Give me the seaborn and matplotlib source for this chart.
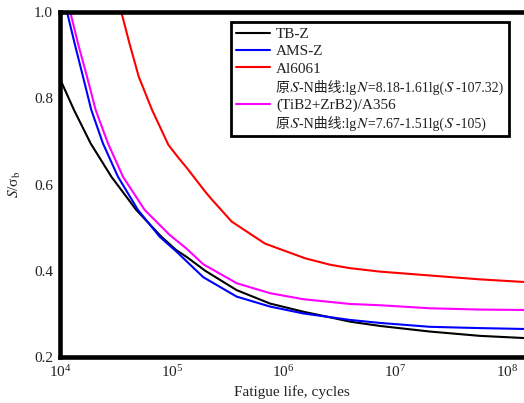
import numpy as np
import pandas as pd
import seaborn as sns
import matplotlib
matplotlib.use('Agg')
import matplotlib.pyplot as plt
from matplotlib.lines import Line2D

# values (lg N, S/sigma_b)
tbz_lgn = [4.0, 4.125, 4.275, 4.46, 4.683, 4.907, 5.04, 5.134, 5.3, 5.582, 5.88, 6.178, 6.417, 6.596, 6.865, 7.312, 7.76, 8.154]
tbz_s = [0.845, 0.773, 0.695, 0.618, 0.541, 0.479, 0.448, 0.432, 0.400, 0.355, 0.324, 0.305, 0.292, 0.282, 0.272, 0.259, 0.249, 0.244]

ams_lgn = [4.063, 4.131, 4.206, 4.28, 4.385, 4.519, 4.698, 4.892, 5.04, 5.283, 5.582, 5.88, 6.178, 6.596, 6.865, 7.312, 7.76, 8.154]
ams_s = [1.0, 0.927, 0.850, 0.773, 0.695, 0.618, 0.541, 0.479, 0.445, 0.385, 0.340, 0.317, 0.301, 0.286, 0.279, 0.270, 0.267, 0.265]

al_lgn = [4.549, 4.622, 4.705, 4.824, 4.97, 5.06, 5.14, 5.298, 5.36, 5.537, 5.835, 6.193, 6.417, 6.596, 6.865, 7.312, 7.76, 8.154]
al_s = [1.0, 0.927, 0.850, 0.773, 0.692, 0.662, 0.637, 0.584, 0.565, 0.514, 0.463, 0.429, 0.414, 0.406, 0.398, 0.389, 0.380, 0.374]

tib_lgn = [4.092, 4.161, 4.242, 4.319, 4.43, 4.564, 4.758, 4.982, 5.13, 5.283, 5.582, 5.88, 6.178, 6.596, 6.865, 7.312, 7.76, 8.154]
tib_s = [1.0, 0.927, 0.850, 0.773, 0.695, 0.618, 0.541, 0.483, 0.452, 0.415, 0.371, 0.348, 0.334, 0.323, 0.320, 0.313, 0.310, 0.309]

names = ['TB-Z', 'AMS-Z', 'Al6061', '(TiB2+ZrB2)/A356']
colors = ['black', 'blue', 'red', '#ff00ff']
yticks = [0.2, 0.4, 0.6, 0.8, 1.0]
xticks = [1e4, 1e5, 1e6, 1e7, 1e8]
notes = {
    'Al6061': '原𝑆-N曲线:lg𝑁=8.18-1.61lg(𝑆\u2009-107.32)',
    '(TiB2+ZrB2)/A356': '原𝑆-N曲线:lg𝑁=7.67-1.51lg(𝑆\u2009-105)',
}

frames = []
for name, lgn, s in zip(names, [tbz_lgn, ams_lgn, al_lgn, tib_lgn], [tbz_s, ams_s, al_s, tib_s]):
    frames.append(pd.DataFrame({'N': np.power(10.0, lgn), 'S': s, 'material': name}))
df = pd.concat(frames, ignore_index=True)

sns.set_style('white')
plt.rcParams['font.family'] = ['Liberation Serif', 'STIXGeneral', 'Noto Sans CJK SC']
plt.rcParams['mathtext.fontset'] = 'stix'
plt.rcParams['font.size'] = 11

fig = plt.figure(figsize=(5.24, 4.03), dpi=100)
ax = fig.add_axes([60 / 524, 46 / 403, 464 / 524, 345 / 403])

sns.lineplot(data=df, x='N', y='S', hue='material', hue_order=names,
             palette=colors, sort=False, estimator=None, linewidth=1.5,
             legend=False, ax=ax)

ax.set_xscale('log')
ax.set_xlim(1e4, 10 ** 8.154)
ax.set_ylim(0.2, 1.0)
ax.set_xticks(xticks)
ax.minorticks_off()
ax.set_yticks(yticks)
ax.set_yticklabels([f'{v:.1f}' for v in yticks])
ax.tick_params(length=0, labelsize=11, colors='#222222')
ax.tick_params(axis='y', pad=5)
ax.tick_params(axis='x', pad=5)

for side in ['left', 'top', 'bottom']:
    ax.spines[side].set_linewidth(3.3)
    ax.spines[side].set_color('black')
ax.spines['right'].set_visible(False)

ax.set_xlabel('Fatigue life, cycles', fontsize=11, color='#222222', labelpad=4)
ax.set_ylabel('$\\mathit{S}$/σ$_\\mathrm{b}$', fontsize=11, color='#222222', labelpad=8)

handles = []
for name, c in zip(names, colors):
    handles.append(Line2D([], [], color=c, linewidth=1.5, label=name))
    if name in notes:
        handles.append(Line2D([], [], color='none', label=notes[name]))

leg = ax.legend(handles=handles, loc='upper left',
                bbox_to_anchor=(231 / 524, 1 - 22 / 403), bbox_transform=fig.transFigure,
                frameon=True, fancybox=False, framealpha=1, edgecolor='black',
                handlelength=2.2, handletextpad=0.4, labelspacing=0.24,
                borderpad=0.35, borderaxespad=0, fontsize=11)
leg.get_frame().set_linewidth(2.0)
for t in leg.get_texts():
    t.set_color('#222222')
    if t.get_text().startswith('原'):
        t.set_fontsize(10)

fig.savefig('out.png', dpi=100)
